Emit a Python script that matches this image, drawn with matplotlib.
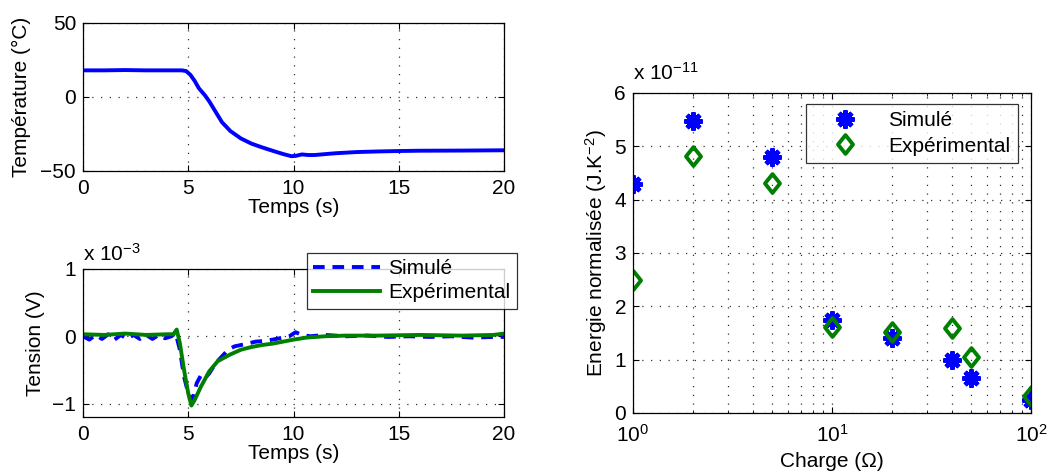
import matplotlib
matplotlib.use("Agg")
import matplotlib.pyplot as plt
from matplotlib.path import Path

plt.rcParams['font.family'] = ['Liberation Sans', 'DejaVu Sans']
plt.rcParams['mathtext.fontset'] = 'custom'
plt.rcParams['mathtext.rm'] = 'Liberation Sans'
plt.rcParams['mathtext.it'] = 'Liberation Sans'

# --- Temperature (top-left) ---
temp_t = [0, 1, 2, 3, 4, 4.7, 4.9, 5.1, 5.3, 5.5, 5.8, 6.0, 6.3, 6.6, 7.0, 7.5, 8.0, 8.5, 9.0, 9.5, 9.9, 10.1,
          10.4, 10.7, 11.0, 12.0, 13.0, 14.0, 15.0, 16.0, 18.0, 20.0]
temp_v = [18, 18, 18.2, 18, 18, 18, 17.5, 15, 11, 6, 1, -3, -10, -17, -23, -28, -31.5, -34, -36.3, -38.5, -40, -39.8,
          -38.8, -39.2, -39.2, -38, -37.2, -36.8, -36.5, -36.3, -36.2, -36]

# --- Tension (bottom-left), values in 1e-3 V ---
sim_t = [0, 0.3, 0.6, 0.9, 1.2, 1.5, 1.8, 2.1, 2.4, 2.7, 3.0, 3.3, 3.6, 3.9, 4.2, 4.4, 4.6, 4.8, 5.0, 5.2, 5.4,
         5.6, 5.8, 6.0, 6.3, 6.6, 6.9, 7.2, 7.5, 7.8, 8.2, 8.6, 9.0, 9.5, 9.8, 10.1, 10.4, 10.8, 11.5, 12.5,
         13.5, 14.5, 15.5, 16.5, 17.5, 18.5, 19.5, 20.0]
sim_v = [0.0, -0.05, 0.02, -0.04, 0.03, -0.05, 0.02, -0.04, 0.02, -0.04, 0.02, -0.04, 0.02, -0.03, 0.0, 0.05,
         -0.2, -0.6, -0.85, -0.95, -0.7, -0.58, -0.62, -0.55, -0.4, -0.3, -0.2, -0.15, -0.13, -0.11, -0.08,
         -0.07, -0.05, -0.02, 0.0, 0.06, 0.02, 0.0, 0.02, 0.0, 0.01, -0.01, 0.0, -0.01, 0.0, -0.02, -0.01, -0.01]
exp_t = [0, 1, 2, 3, 4, 4.3, 4.45, 4.6, 4.8, 5.0, 5.15, 5.3, 5.6, 6.0, 6.4, 7.0, 7.5, 8.0, 8.5, 9.0, 9.5,
         10.0, 10.6, 11.5, 12.5, 14.0, 16.0, 18.0, 19.5, 20.0]
exp_v = [0.03, 0.02, 0.04, 0.02, 0.03, 0.03, 0.1, -0.1, -0.5, -0.85, -1.03, -0.95, -0.75, -0.52, -0.37, -0.27,
         -0.2, -0.16, -0.13, -0.11, -0.08, -0.05, -0.02, 0.0, 0.01, 0.01, 0.02, 0.01, 0.02, 0.04]

# --- Energy vs load (right), values in 1e-11 ---
charge = [1, 2, 5, 10, 20, 40, 50, 100]
energie_sim = [4.3, 5.48, 4.8, 1.75, 1.4, 1.0, 0.65, 0.25]
energie_exp = [2.5, 4.82, 4.32, 1.62, 1.52, 1.6, 1.05, 0.32]

BLUE = (0, 0, 1)
GREEN = (0, 0.5, 0)
FS = 15
GRID = dict(linestyle=(0, (1, 6)), color='0.2', lw=0.9)

diamond = Path([(0, 1), (0.8, 0), (0, -1), (-0.8, 0), (0, 1)], closed=True)

fig = plt.figure(figsize=(10.47, 4.74), dpi=100)
W, H = 1047, 474

def px_axes(l, t, r, b):
    return fig.add_axes([l / W, (H - b) / H, (r - l) / W, (b - t) / H])

def style(ax, xpad=6):
    ax.tick_params(direction='in', top=True, right=True, labelsize=FS, length=4, pad=5)
    ax.tick_params(axis='x', pad=xpad)
    for s in ax.spines.values():
        s.set_linewidth(0.9)

ax1 = px_axes(83, 23, 504, 171)
ax1.plot(temp_t, temp_v, color=BLUE, lw=2.8)
ax1.set_xlim(0, 20)
ax1.set_ylim(-50, 50)
ax1.set_xticks([0, 5, 10, 15, 20])
ax1.set_yticks([-50, 0, 50])
ax1.set_yticklabels(['\u221250', '0', '50'])
ax1.grid(True, **GRID)
ax1.set_xlabel('Temps (s)', fontsize=FS, labelpad=0)
ax1.set_ylabel('Température (°C)', fontsize=FS, labelpad=7)
style(ax1)

ax2 = px_axes(83, 269, 504, 417)
ax2.plot(sim_t, sim_v, color=BLUE, lw=2.8, ls=(0, (3, 2)), label='Simulé')
ax2.plot(exp_t, exp_v, color=GREEN, lw=2.8, label='Expérimental')
ax2.set_xlim(0, 20)
ax2.set_ylim(-1.2, 1)
ax2.set_xticks([0, 5, 10, 15, 20])
ax2.set_yticks([-1, 0, 1])
ax2.set_yticklabels(['\u22121', '0', '1'])
ax2.grid(True, **GRID)
ax2.set_xlabel('Temps (s)', fontsize=FS, labelpad=0)
ax2.set_ylabel('Tension (V)', fontsize=FS, labelpad=5)
ax2.text(0.0, 1.03, r'x 10$^{-3}$', transform=ax2.transAxes, fontsize=FS, ha='left', va='bottom')
style(ax2)
leg2 = ax2.legend(loc='upper left', bbox_to_anchor=(307 / W, (H - 253) / H), bbox_transform=fig.transFigure,
                  fontsize=FS, frameon=True, fancybox=False, edgecolor='black', handlelength=3.2,
                  borderpad=0.3, labelspacing=0.25, handletextpad=0.4, borderaxespad=0)
leg2.get_frame().set_linewidth(0.9)

ax3 = px_axes(633, 93, 1031, 413)
ax3.plot(charge, energie_sim, ls='none', marker=(8, 2, 0), ms=13, mew=3.2, color=BLUE, label='Simulé')
ax3.plot(charge, energie_exp, ls='none', marker=diamond, ms=13.5, mew=2.8, mfc='none', mec=GREEN,
         label='Expérimental')
ax3.set_xscale('log')
ax3.set_xlim(1, 100)
ax3.set_ylim(0, 6)
ax3.set_yticks([0, 1, 2, 3, 4, 5, 6])
ax3.grid(True, which='major', **GRID)
ax3.grid(True, which='minor', axis='x', **GRID)
ax3.set_xlabel('Charge (\u03a9)', fontsize=FS, labelpad=4)
ax3.set_ylabel('Energie normalisée (J.K$^{-2}$)', fontsize=FS, labelpad=4)
ax3.text(0.0, 1.03, r'x 10$^{-11}$', transform=ax3.transAxes, fontsize=FS, ha='left', va='bottom')
style(ax3, xpad=8)
ax3.tick_params(which='minor', direction='in', top=True, right=True, length=2)
leg3 = ax3.legend(loc='upper left', bbox_to_anchor=(806 / W, (H - 104) / H), bbox_transform=fig.transFigure,
                  fontsize=FS, frameon=True, fancybox=False, edgecolor='black', handlelength=3.0,
                  numpoints=1, borderpad=0.35, labelspacing=0.3, handletextpad=0.6, borderaxespad=0)
leg3.get_frame().set_linewidth(0.9)

fig.savefig('out.png', dpi=100)
